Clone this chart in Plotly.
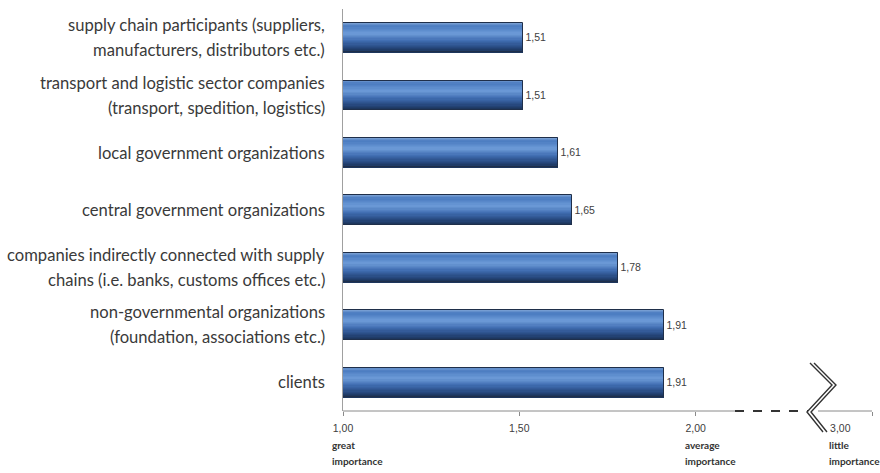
import plotly.graph_objects as go

# ---------------- data ----------------
categories = [
    "supply chain participants (suppliers,|manufacturers, distributors etc.)",
    "transport and logistic sector companies|(transport, spedition, logistics)",
    "local government organizations",
    "central government organizations",
    "companies indirectly connected with supply|chains (i.e. banks, customs offices etc.)",
    "non-governmental organizations|(foundation, associations etc.)",
    "clients",
]
values = [1.51, 1.51, 1.61, 1.65, 1.78, 1.91, 1.91]

tick_positions = [1.0, 1.5, 2.0, 2.41]
tick_labels = ["1,00", "1,50", "2,00", "3,00"]
tick_marks = [1.0, 1.5, 2.0, 2.5]
scale_words = [(1.0, ["great", "importance"]), (2.0, ["average", "importance"]), (2.41, ["little", "importance"])]

x_range = [1.0, 2.5]

# ---------------- layout constants ----------------
W, H = 880, 473
ML, MR, MT, MB = 343, 8, 9, 62
PW, PH = W - ML - MR, H - MT - MB
BAR_W = 0.51
N_STRIPS = 24

def px2x(px):
    return (px - ML) / PW

def py2y(py):
    return (H - MB - py) / PH

def hex2rgb(h):
    h = h.lstrip("#")
    return tuple(int(h[i:i + 2], 16) for i in (0, 2, 4))

grad_stops = [(0.0, "#7FA4D6"), (0.12, "#4A7BC0"), (0.38, "#6D9BD8"),
              (0.62, "#3F6CB0"), (0.85, "#27497F"), (1.0, "#1B3358")]

def grad(t):
    for (t0, c0), (t1, c1) in zip(grad_stops[:-1], grad_stops[1:]):
        if t0 <= t <= t1:
            f = (t - t0) / (t1 - t0)
            a, b = hex2rgb(c0), hex2rgb(c1)
            return "rgb(%d,%d,%d)" % tuple(round(a[i] + (b[i] - a[i]) * f) for i in range(3))
    return grad_stops[-1][1]

fig = go.Figure()
strip = BAR_W / N_STRIPS
for i in range(N_STRIPS):
    fig.add_trace(go.Bar(
        y=categories, x=[v - 1.0 for v in values], base=1.0, orientation="h",
        width=strip * 1.5, offset=-BAR_W / 2 + i * strip,
        marker=dict(color=grad((i + 0.5) / N_STRIPS), line=dict(width=0)),
        hoverinfo="skip", showlegend=False,
    ))
# outline + value labels
fig.add_trace(go.Bar(
    y=categories, x=[v - 1.0 for v in values], base=1.0, orientation="h",
    width=BAR_W, offset=-BAR_W / 2,
    marker=dict(color="rgba(0,0,0,0)", line=dict(color="#1F2F4A", width=1)),
    text=[f"{v:.2f}".replace(".", ",") for v in values],
    textposition="outside", cliponaxis=False,
    textfont=dict(family="Liberation Sans, Arial", size=10.5, color="#404040"),
    showlegend=False,
))

# category labels (each line its own annotation)
for cat in categories:
    lines = cat.split("|")
    n = len(lines)
    for j, ln in enumerate(lines):
        fig.add_annotation(
            x=0, xref="paper", xanchor="right", xshift=-16,
            y=cat, yref="y", yanchor="middle",
            yshift=(n - 1) * 12.5 - j * 25,
            text=ln, showarrow=False,
            font=dict(family="Lato, Noto Sans", size=16.6, color="#3A3A3A"),
        )

# scale words below the axis
for xv, words in scale_words:
    for j, wd in enumerate(words):
        fig.add_annotation(
            x=xv, xref="x", xanchor="left", xshift=-13,
            y=0, yref="paper", yanchor="middle", yshift=-34 - j * 16,
            text="<b>%s</b>" % wd, showarrow=False,
            font=dict(family="Lato, Noto Sans", size=10, color="#333333"),
        )

# x axis line pieces, dashed gap, and break symbol
axis_col = "#8A8A8A"
fig.add_shape(type="line", xref="paper", yref="paper", x0=0, x1=px2x(735), y0=0, y1=0,
              line=dict(color=axis_col, width=1))
fig.add_shape(type="line", xref="paper", yref="paper", x0=px2x(735), x1=px2x(808), y0=0, y1=0,
              line=dict(color="#333333", width=2.2, dash="dash"))
fig.add_shape(type="line", xref="paper", yref="paper", x0=px2x(818), x1=1, y0=0, y1=0,
              line=dict(color=axis_col, width=1))
brk = [(810, 363), (832, 385), (807, 412), (823, 432)]
for dx in (0, 4):
    pts = [(px2x(px + dx), py2y(py)) for px, py in brk]
    path = "M " + " L ".join("%.4f,%.4f" % p for p in pts)
    fig.add_shape(type="path", xref="paper", yref="paper", path=path,
                  line=dict(color="#333333", width=1.4))

fig.update_layout(
    width=W, height=H, margin=dict(l=ML, r=MR, t=MT, b=MB),
    paper_bgcolor="white", plot_bgcolor="white",
    barmode="overlay", bargap=0,
    xaxis=dict(range=x_range, showgrid=False, zeroline=False, showline=False,
               tickvals=tick_positions, ticktext=tick_labels,
               ticks="outside", ticklen=4, tickcolor="rgba(0,0,0,0)", ticklabelstandoff=3,
               tickfont=dict(family="Liberation Sans, Arial", size=10.5, color="#404040"),
               minor=dict(tickvals=tick_marks, ticks="outside", ticklen=4, tickcolor=axis_col),
               fixedrange=True),
    yaxis=dict(autorange="reversed", showticklabels=False, showgrid=False, zeroline=False,
               showline=True, linecolor="#A0A0A0", linewidth=1, ticks="", fixedrange=True),
    showlegend=False,
)

fig.write_html("out.html")
